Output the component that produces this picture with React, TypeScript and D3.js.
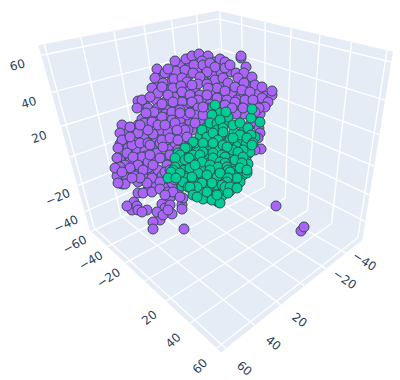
import React, { useEffect, useRef } from "react";
import * as d3 from "d3";

const width = 400;
const height = 380;

const xTicks = [-60, -40, -20, 0, 20, 40, 60];
const yTicks = [-40, -20, 0, 20, 40, 60];
const zTicks = [-40, -20, 0, 20, 40, 60];
const xLabels = [-60, -40, -20, 20, 40, 60];
const yLabels = [-40, -20, 20, 40, 60];
const zLabels = [-40, -20, 20, 40, 60];

// cloud positions, in view plane units (across, up)
const purplePoints: [number, number][] = [
  [-20, 125], [-10, 127], [-2, 130], [5, 122], [14, 128], [19, 119], [31, 118], [-12, 114], [-3, 120], [12, 115],
  [-20, 108], [-12, 100], [-5, 100], [3, 110], [12, 104], [20, 106], [30, 100], [40, 106], [48, 103], [58, 97],
  [66, 94], [12, 97], [21, 96], [32, 95], [41, 94], [49, 93], [56, 86], [-22, 98], [-14, 92], [-5, 93],
  [4, 88], [12, 88], [20, 85], [30, 86], [40, 85], [48, 84], [-30, 107], [-22, 90], [-14, 84], [-30, 88],
  [-6, 78], [2, 78], [10, 86], [18, 80], [48, 78], [52, 72], [44, 76], [60, 76], [36, 76], [-38, 115],
  [-28, 115], [-40, 110], [-32, 102], [-42, 104], [-28, 96], [-35, 88], [-44, 90], [-55, 85], [-52, 82], [-42, 82],
  [-33, 80], [-24, 76], [-42, 76], [-35, 76], [-52, 70], [-44, 70], [-34, 72], [-66, 60], [-72, 58], [-62, 65],
  [-52, 64], [-40, 60], [-28, 62], [-20, 64], [-10, 68], [-8, 60], [0, 70], [-12, 60], [-76, 58], [-74, 47],
  [-64, 52], [-56, 52], [-44, 50], [-33, 46], [-26, 55], [-16, 46], [-10, 48], [-80, 46], [-72, 42], [-63, 40],
  [-55, 39], [-46, 42], [-40, 47], [-30, 41], [-26, 36], [-78, 32], [-70, 30], [-62, 32], [-54, 34], [-45, 30],
  [-36, 32], [-30, 28], [-58, 27], [-48, 18], [-80, 30], [-73, 18], [-66, 20], [-60, 18], [-52, 22], [-42, 20],
  [-38, 14], [-30, 12], [-72, 12], [-62, 8], [-56, 12], [-45, 6], [-35, 8], [-28, 5], [-76, 14], [-83, 14],
  [-52, 0], [-36, 2], [-30, -8], [-22, -2], [-38, -14], [-28, -24], [-66, -12], [-68, -20],
  [-40, -30],
  [41, 132], [41, 134], [-25, 129], [-14, 131], [-8, 134], [-1, 136], [8, 134], [2, 129], [-6, 125], [3, 125],
  [10, 127], [20, 131], [25, 128], [15, 123], [25, 122], [30, 125], [46, 123], [-24, 119], [-15, 120], [-7, 117],
  [7, 118], [36, 117], [44, 117], [52, 113], [-26, 111], [-18, 112], [-13, 108], [0, 113], [15, 110], [23, 112],
  [38, 112], [-2, 106], [7, 106], [28, 107], [35, 103], [44, 107], [55, 105], [62, 103], [72, 95], [72, 99],
  [-27, 102], [-19, 104], [-18, 98], [-8, 105], [17, 102], [25, 99], [42, 100], [50, 98], [62, 92], [68, 88],
  [65, 83], [-26, 93], [-10, 95], [0, 95], [8, 102], [7, 95], [17, 92], [27, 90], [37, 90], [45, 90],
  [53, 90], [59, 82], [-10, 87], [-2, 90], [-18, 88], [-25, 82], [-17, 80], [-8, 88], [-2, 82], [7, 82],
  [-43, 121], [-35, 117], [-32, 121], [-45, 112], [-37, 107], [-48, 102], [-42, 97], [-38, 103], [-32, 95], [-62, 89],
  [-58, 90], [-63, 82], [-50, 93], [-38, 86], [-78, 65], [-70, 63], [-58, 71], [-48, 75], [-38, 73], [-28, 78],
  [-28, 70], [-20, 70], [-13, 75], [-27, 88], [-46, 78], [-54, 77], [-20, 80], [-62, 57], [-56, 67], [-48, 68],
  [-47, 56], [-38, 50], [-32, 58], [-25, 67], [-17, 62], [-80, 57], [-78, 50], [-68, 45], [-60, 47], [-52, 47],
  [-82, 42], [-73, 37], [-58, 33], [-50, 45], [-43, 37], [-37, 43], [-25, 47], [-83, 32], [-67, 33], [-75, 25],
  [-62, 25], [-52, 28], [-40, 32], [-33, 25], [-70, 22], [-18, 55], [-80, 23], [-85, 22], [-78, 18], [-65, 14],
  [-57, 20], [-47, 25], [-48, 12], [-40, 8], [-78, 6], [-75, 6], [-82, 7], [-53, 7], [-62, -3], [-57, -3],
  [-48, -2], [-40, 1], [-32, -2], [-27, -2], [-35, -18], [-73, -16], [-63, -16], [-62, -20], [-53, -20], [-58, -22],
  [-43, -22], [-37, -25], [-47, -32], [-47, -39], [-16, -39], [-18, -15], [-17, -8], [-20, -7], [-18, -19],
  [-60, 12], [-35, 18], [-25, 22], [-68, 12], [-25, 10], [-35, -5], [-30, -15], [-32, -20], [-70, 53], [-52, 60],
  [-42, 65], [-60, 65], [-50, 35], [-30, 35], [-22, 40], [-35, 65], [-5, 75], [-10, 77], [3, 75], [3, 83],
  [-5, 67], [-15, 60], [-23, 60], [-30, 52], [-22, 50], [-13, 53], [-20, 77], [35, 88], [50, 65], [55, 68],
  [58, 55], [59, 62], [60, 57], [58, 52], [61, 41], [55, 40], [25, 85], [43, 82], [32, 82], [55, 78],
  [-30, 20], [76, -16], [101, -41], [104, -37],
];

const greenPoints: [number, number][] = [
  [6, 62], [14, 66], [26, 68], [34, 58], [44, 60], [26, 52], [10, 42], [0, 53], [-1, 42], [8, 48],
  [20, 54], [39, 47], [46, 46], [28, 36], [36, 44], [18, 42], [8, 32], [-4, 40], [-10, 37], [-17, 33],
  [-6, 29], [-2, 24], [4, 22], [15, 28], [30, 35], [40, 34], [48, 36], [46, 30], [50, 38], [31, 23],
  [37, 24], [22, 22], [14, 18], [5, 30], [-12, 26], [-18, 26], [-22, 28], [-16, 20], [-13, 14], [-21, 12],
  [-4, 11], [3, 13], [12, 10], [24, 14], [33, 17], [42, 14], [40, 8], [34, 6], [20, 10], [14, 1],
  [6, 6], [-5, 7], [-14, 12], [-7, -1], [2, -3], [8, 1], [14, -6], [22, -6], [-1, -1], [-9, 8],
  [-18, 4], [30, -1], [24, 0], [18, -12], [8, -8], [3, -9], [33, 24], [14, 55], [28, 46], [6, 36],
  [-1, 30],
  [13, 83], [15, 85], [20, 77], [12, 75], [28, 73], [26, 78], [60, 68], [51, 72], [52, 81], [10, 67],
  [17, 67], [20, 70], [33, 65], [40, 67], [48, 62], [2, 60], [17, 60], [23, 62], [23, 58], [40, 55],
  [55, 53], [51, 55], [7, 53], [13, 57], [18, 50], [30, 50], [33, 52], [47, 52], [53, 47], [-5, 47],
  [-7, 48], [3, 47], [13, 47], [23, 45], [52, 45], [-13, 42], [-15, 42], [3, 38], [13, 37], [33, 40],
  [43, 40], [-22, 37], [-7, 35], [-20, 35], [0, 35], [27, 43], [38, 38], [22, 35], [-25, 32], [-15, 30],
  [-11, 32], [2, 28], [13, 32], [25, 33], [32, 28], [20, 28], [35, 30], [48, 26], [43, 33], [42, 27],
  [-10, 22], [10, 25], [25, 27], [18, 23], [27, 23], [40, 22], [47, 17], [-25, 23], [-27, 20], [-29, 18],
  [10, 20], [28, 20], [30, 18], [47, 20], [-20, 17], [-2, 17], [7, 15], [-8, 13], [17, 13], [20, 17],
  [32, 11], [37, 12], [28, 12], [-17, 8], [2, 7], [27, 8], [-12, 3], [-3, 3], [-10, 3], [17, 5],
  [22, 5], [25, 3], [30, 3], [7, -2], [-7, -5], [-3, -7], [28, -3], [12, -10], [20, -13], [12, 7],
  [-5, 25], [17, -5], [37, 2], [-32, 12], [-24, 12],
];

const across = d3.scaleLinear().domain([-200, 200]).range([0, width]);
const up = d3.scaleLinear().domain([-190, 190]).range([height, 0]);

// axis ranges onto the unit box
const tx = d3.scaleLinear().domain([-62, 63]).range([0, 1]);
const ty = d3.scaleLinear().domain([-58, 63]).range([0, 1]);
const tz = d3.scaleLinear().domain([-55, 65]).range([0, 1]);

// projective camera fitted to the corners of the box
const project = (a: number, b: number, c: number): [number, number] => {
  const X = 226 + 57.66 * a - 153.52 * b - 48.5 * c;
  const Y = 166 + 22.06 * a + 19.2 * b - 157 * c;
  const W = 1 - 0.2164 * a - 0.1947 * b - 0.1847 * c;
  return [X / W, Y / W];
};

const minus = (v: number) => (v < 0 ? `\u2212${-v}` : `${v}`);

export default function App() {
  const svgRef = useRef<SVGSVGElement>(null);

  useEffect(() => {
    const svg = d3.select(svgRef.current).attr("width", width).attr("height", height);
    svg.selectAll("*").remove();
    const line = d3.line();

    // Walls and floor
    const quads: [number, number, number][][] = [
      [[0, 0, 0], [0, 1, 0], [0, 1, 1], [0, 0, 1]],
      [[0, 0, 0], [1, 0, 0], [1, 0, 1], [0, 0, 1]],
      [[0, 0, 0], [1, 0, 0], [1, 1, 0], [0, 1, 0]],
    ];
    quads.forEach(q => {
      svg.append("path")
        .attr("d", line(q.map(p => project(p[0], p[1], p[2]))) + "Z")
        .attr("fill", "#e5ecf6")
        .attr("stroke", "#e5ecf6")
        .attr("stroke-width", 0.5);
    });

    // Grid
    const grid = (from: [number, number, number], to: [number, number, number]) => {
      svg.append("path")
        .attr("d", line([project(from[0], from[1], from[2]), project(to[0], to[1], to[2])]))
        .attr("fill", "none")
        .attr("stroke", "#fff")
        .attr("stroke-width", 1.4);
    };
    xTicks.forEach(v => {
      grid([tx(v), 0, 0], [tx(v), 1, 0]);
      grid([tx(v), 0, 0], [tx(v), 0, 1]);
    });
    yTicks.forEach(v => {
      grid([0, ty(v), 0], [1, ty(v), 0]);
      grid([0, ty(v), 0], [0, ty(v), 1]);
    });
    zTicks.forEach(v => {
      grid([0, 0, tz(v)], [0, 1, tz(v)]);
      grid([0, 0, tz(v)], [1, 0, tz(v)]);
    });

    // Tick labels
    const label = (pos: [number, number], text: string, angle: number) => {
      svg.append("text")
        .attr("transform", `translate(${pos[0]},${pos[1]}) rotate(${angle})`)
        .attr("text-anchor", "middle")
        .attr("dy", "0.36em")
        .attr("font-family", "'DejaVu Sans', sans-serif")
        .attr("font-size", 12)
        .attr("fill", "#2a3f5f")
        .text(text);
    };
    const xDy = d3.scaleLinear().domain([-60, 60]).range([13, 18]);
    const xAngle = d3.scaleLinear().domain([-60, 60]).range([-28, -45]);
    xLabels.forEach(v => {
      const p = project(tx(v), 1, 0);
      label([p[0] - 17, p[1] + xDy(v)], minus(v), xAngle(v));
    });
    const yDy = d3.scaleLinear().domain([-40, 60]).range([8, 20]);
    const yAngle = d3.scaleLinear().domain([-40, 60]).range([33, 40]);
    yLabels.forEach(v => {
      const p = project(1, ty(v), 0);
      label([p[0] + 19, p[1] + yDy(v)], minus(v), yAngle(v));
    });
    const zDx = d3.scaleLinear().domain([-40, 60]).range([-19, -24]);
    const zDy = d3.scaleLinear().domain([-40, 60]).range([12, 9.5]);
    const zAngle = d3.scaleLinear().domain([-40, 60]).range([-25, -15]);
    zLabels.forEach(v => {
      const p = project(0, 1, tz(v));
      label([p[0] + zDx(v), p[1] + zDy(v)], minus(v), zAngle(v));
    });

    // Points
    const drawPoints = (points: [number, number][], color: string) => {
      svg.append("g")
        .selectAll("circle")
        .data(points)
        .join("circle")
        .attr("cx", d => across(d[0]))
        .attr("cy", d => up(d[1]))
        .attr("r", 5)
        .attr("fill", color)
        .attr("stroke", "#2f4f4f")
        .attr("stroke-width", 1);
    };
    drawPoints(purplePoints, "#ab63fa");
    drawPoints(greenPoints, "#00cc96");
  }, []);

  return <svg ref={svgRef} style={{ position: "absolute", left: 0, top: 0 }}></svg>;
}
